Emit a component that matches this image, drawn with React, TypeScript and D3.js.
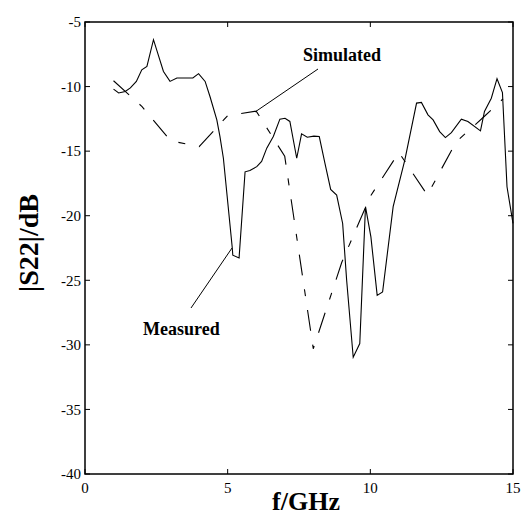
import React from "react";
import * as d3 from "d3";

const measuredF = [1.0,1.18,1.41,1.59,1.80,1.99,2.17,2.40,2.75,2.98,3.22,3.51,3.78,3.98,4.21,4.38,4.62,4.73,4.85,5.16,5.18,5.40,5.61,5.78,6.02,6.19,6.37,6.60,6.83,7.01,7.18,7.42,7.59,7.79,8.02,8.21,8.41,8.61,8.82,9.03,9.17,9.40,9.63,9.83,10.02,10.24,10.43,10.80,11.21,11.62,11.79,12.02,12.20,12.43,12.63,12.84,13.19,13.42,13.86,14.00,14.24,14.44,14.63,14.79,15.0];
const measuredDb = [-10.2,-10.5,-10.38,-10.1,-9.6,-8.7,-8.44,-6.37,-8.83,-9.6,-9.34,-9.34,-9.34,-9.0,-9.6,-10.77,-12.58,-13.87,-15.55,-22.46,-23.06,-23.27,-16.6,-16.5,-16.2,-15.8,-14.77,-13.87,-12.52,-12.45,-12.7,-15.55,-13.66,-13.92,-13.84,-13.87,-15.94,-17.96,-18.4,-20.6,-25.0,-30.96,-29.9,-19.3,-21.64,-26.17,-25.9,-19.3,-15.68,-11.28,-11.23,-12.19,-12.58,-13.49,-13.95,-13.56,-12.52,-12.71,-13.43,-11.93,-10.9,-9.39,-10.46,-17.76,-20.6];

const simulatedF = [1,2,3,4,5,6,7,8,9,10,11,12,13,14,14.65];
const simulatedDb = [-9.55,-11.55,-14.2,-14.65,-12.25,-11.9,-15.4,-30.3,-23.6,-18.5,-15.1,-18.4,-14.3,-12.3,-10.95];

const xTicks = [0,5,10,15];
const yTicks = [-40,-35,-30,-25,-20,-15,-10,-5];

const xTitle = "f/GHz";
const yTitle = "|S22|/dB";
const simLabel = "Simulated";
const measLabel = "Measured";

export default function App() {
  const W = 524, H = 516;
  const x = d3.scaleLinear().domain([0, 15]).range([85, 513]);
  const y = d3.scaleLinear().domain([-40, -5]).range([474, 22]);
  const line = d3.line<[number, number]>().x(d => x(d[0])).y(d => y(d[1]));
  const meas = measuredF.map((f, i) => [f, measuredDb[i]] as [number, number]);
  const sim = simulatedF.map((f, i) => [f, simulatedDb[i]] as [number, number]);
  const font = "'Liberation Serif', 'Times New Roman', serif";
  const x0 = x.range()[0], x1 = x.range()[1];
  const y0 = y.range()[0], y1 = y.range()[1];
  const tl = 5;
  return (
    <svg width={W} height={H} style={{ position: "absolute", left: 0, top: 0, background: "#fff" }}>
      <rect x={0} y={0} width={W} height={H} fill="#fff" />
      <path d={line(meas) || ""} fill="none" stroke="#000" strokeWidth={1.1} />
      <path d={line(sim) || ""} fill="none" stroke="#000" strokeWidth={1.1} strokeDasharray="21,14,7,14" />
      <rect x={x0} y={y1} width={x1 - x0} height={y0 - y1} fill="none" stroke="#000" strokeWidth={1.5} />
      {xTicks.map(t => (
        <g key={"x" + t}>
          <line x1={x(t)} x2={x(t)} y1={y0} y2={y0 - tl} stroke="#000" strokeWidth={1} />
          <line x1={x(t)} x2={x(t)} y1={y1} y2={y1 + tl} stroke="#000" strokeWidth={1} />
          <text x={x(t)} y={493} textAnchor="middle" fontFamily={font} fontSize={15}>{t}</text>
        </g>
      ))}
      {yTicks.map(t => (
        <g key={"y" + t}>
          <line x1={x0} x2={x0 + tl} y1={y(t)} y2={y(t)} stroke="#000" strokeWidth={1} />
          <line x1={x1} x2={x1 - tl} y1={y(t)} y2={y(t)} stroke="#000" strokeWidth={1} />
          <text x={81} y={y(t)} dy="0.35em" textAnchor="end" fontFamily={font} fontSize={15}>{t}</text>
        </g>
      ))}
      <text x={306} y={510} textAnchor="middle" fontFamily={font} fontWeight="bold" fontSize={26}>{xTitle}</text>
      <text transform={`translate(38,${243}) rotate(-90)`} textAnchor="middle" fontFamily={font} fontWeight="bold" fontSize={28}>{yTitle}</text>
      <text x={303} y={61} fontFamily={font} fontWeight="bold" fontSize={18}>{simLabel}</text>
      <line x1={318} y1={69} x2={255} y2={112} stroke="#000" strokeWidth={1} />
      <text x={143} y={335} fontFamily={font} fontWeight="bold" fontSize={18}>{measLabel}</text>
      <line x1={191} y1={308} x2={232} y2={248} stroke="#000" strokeWidth={1} />
    </svg>
  );
}
